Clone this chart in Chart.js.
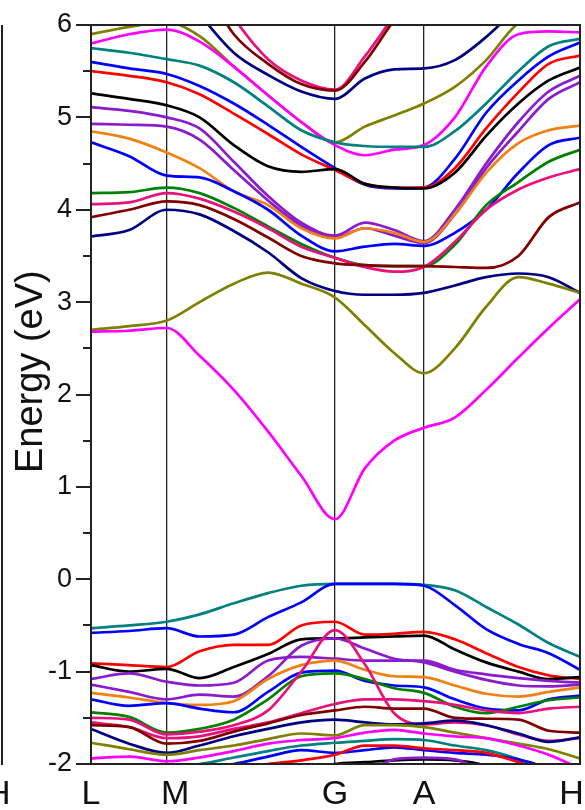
<!DOCTYPE html>
<html>
<head>
<meta charset="utf-8">
<script src="https://cdn.jsdelivr.net/npm/chart.js@4"></script>
<style>
  body { margin: 0; background: #fff; }
  #wrap { position: relative; width: 585px; height: 810px; overflow: hidden; }
  #edge { position: absolute; left: 1px; top: 25px; width: 2px; height: 740px; background: #222; }
  #prevH { position: absolute; left: -14px; top: 773px; font: 34px "Liberation Sans", Arial, sans-serif; color: #111; line-height: 38px; }
</style>
</head>
<body>
<div id="wrap">
  <canvas id="bandChart" width="585" height="810"></canvas>
  <div id="edge"></div>
  <span id="prevH">H</span>
</div>
<script>
// k-path sample positions (path length units) and high-symmetry points
const kx = [0, 0.39, 0.774, 1.11, 1.46, 1.81, 2.15, 2.495, 2.80, 3.10, 3.405, 3.72, 4.04, 4.37, 4.68, 5.0];
const kPos = [0, 0.774, 2.495, 3.405, 5.0];
const kLabels = ['L', 'M', 'G', 'A', 'H'];
const yTicks = [-2, -1, 0, 1, 2, 3, 4, 5, 6];

// conduction bands (eV)
const cbMagenta1 = [2.68, 2.69, 2.72, 2.42, 2.05, 1.6, 1.12, 0.65, 1.2, 1.5, 1.64, 1.75, 2.05, 2.4, 2.72, 3.03];
const cbOlive1 = [2.7, 2.74, 2.8, 3.0, 3.2, 3.32, 3.2, 3.05, 2.75, 2.45, 2.23, 2.5, 2.95, 3.27, 3.2, 3.1];
const cbNavy1 = [3.71, 3.78, 4.0, 3.95, 3.77, 3.54, 3.26, 3.12, 3.08, 3.08, 3.1, 3.18, 3.27, 3.31, 3.27, 3.1];
const cbWine1 = [3.92, 4.0, 4.09, 4.05, 3.9, 3.7, 3.5, 3.42, 3.4, 3.39, 3.39, 3.38, 3.37, 3.5, 3.92, 4.08];
const cbPink1 = [4.06, 4.08, 4.18, 4.12, 3.98, 3.8, 3.6, 3.48, 3.38, 3.33, 3.38, 3.65, 4.0, 4.22, 4.35, 4.44];
const cbGreen1 = [4.18, 4.19, 4.24, 4.18, 4.02, 3.82, 3.63, 3.48, 3.4, 3.39, 3.39, 3.62, 4.05, 4.3, 4.52, 4.65];
const cbBlue2 = [4.73, 4.58, 4.37, 4.35, 4.2, 4.0, 3.72, 3.55, 3.6, 3.63, 3.61, 3.75, 4.0, 4.4, 4.7, 4.78];
const cbOrange1 = [4.85, 4.77, 4.62, 4.45, 4.2, 4.05, 3.8, 3.69, 3.8, 3.75, 3.65, 3.95, 4.4, 4.72, 4.86, 4.91];
const cbPurple2 = [4.93, 4.92, 4.9, 4.76, 4.43, 4.1, 3.83, 3.7, 3.8, 3.72, 3.64, 3.95, 4.45, 4.85, 5.2, 5.38];
const cbPurple1 = [5.11, 5.07, 5.0, 4.88, 4.52, 4.15, 3.86, 3.72, 3.86, 3.78, 3.66, 4.0, 4.5, 4.95, 5.28, 5.45];
const cbBlack1 = [5.26, 5.2, 5.13, 5.0, 4.7, 4.47, 4.41, 4.44, 4.28, 4.24, 4.23, 4.4, 4.8, 5.15, 5.4, 5.54];
const cbRed1 = [5.5, 5.45, 5.38, 5.25, 5.04, 4.82, 4.6, 4.43, 4.28, 4.24, 4.24, 4.45, 4.88, 5.27, 5.58, 5.67];
const cbBlue1 = [5.6, 5.53, 5.47, 5.34, 5.15, 4.92, 4.68, 4.45, 4.27, 4.23, 4.24, 4.55, 5.05, 5.4, 5.66, 5.81];
const cbTeal1 = [5.75, 5.7, 5.63, 5.56, 5.38, 5.12, 4.86, 4.73, 4.69, 4.68, 4.68, 4.85, 5.15, 5.5, 5.77, 5.85];
const cbMagenta2 = [5.8, 5.9, 5.95, 5.82, 5.55, 5.24, 4.95, 4.7, 4.59, 4.65, 4.7, 5.0, 5.55, 5.9, 5.93, 5.92];
const cbOlive2 = [5.9, 5.98, 6.03, 5.88, 5.55, 5.24, 4.95, 4.73, 4.9, 5.02, 5.15, 5.33, 5.62, 6.02, 6.1, 6.05];
const cbNavy2 = [6.6, 6.6, 6.6, 6.12, 5.7, 5.46, 5.28, 5.2, 5.42, 5.52, 5.53, 5.62, 5.87, 6.2, 6.5, 6.6];
const cbWine2 = [6.9, 6.9, 6.9, 6.5, 5.9, 5.58, 5.36, 5.29, 5.6, 6.05, 6.4, 6.6, 6.8, 6.9, 6.9, 6.9];
const cbPink2 = [7.0, 7.0, 7.0, 6.7, 6.08, 5.63, 5.4, 5.3, 5.66, 6.1, 6.5, 6.8, 7.0, 7.0, 7.0, 7.0];

// valence bands (eV)
const vbTeal1 = [-0.53, -0.5, -0.46, -0.38, -0.26, -0.15, -0.07, -0.05, -0.05, -0.05, -0.06, -0.12, -0.3, -0.49, -0.69, -0.84];
const vbBlue1 = [-0.58, -0.56, -0.53, -0.62, -0.6, -0.41, -0.25, -0.05, -0.05, -0.05, -0.07, -0.28, -0.54, -0.7, -0.8, -0.98];
const vbRed1 = [-0.91, -0.93, -0.95, -0.78, -0.71, -0.71, -0.5, -0.46, -0.6, -0.59, -0.57, -0.65, -0.8, -0.95, -1.04, -1.08];
const vbBlack1 = [-0.93, -1.0, -0.97, -1.07, -0.95, -0.81, -0.65, -0.64, -0.63, -0.62, -0.61, -0.76, -0.9, -1.0, -1.08, -1.06];
const vbPurple1 = [-1.08, -1.02, -1.11, -1.15, -1.12, -0.88, -0.84, -0.86, -0.88, -0.88, -0.88, -0.98, -1.03, -1.07, -1.1, -1.12];
const vbPurple2 = [-1.14, -1.22, -1.3, -1.25, -1.27, -1.05, -0.72, -0.64, -0.75, -0.86, -0.9, -1.0, -1.09, -1.15, -1.16, -1.14];
const vbOrange1 = [-1.23, -1.28, -1.34, -1.36, -1.32, -1.08, -0.93, -0.88, -0.98, -1.05, -1.06, -1.15, -1.24, -1.27, -1.22, -1.17];
const vbBlue2 = [-1.3, -1.37, -1.34, -1.4, -1.44, -1.22, -1.01, -0.99, -1.1, -1.15, -1.17, -1.3, -1.4, -1.42, -1.3, -1.26];
const vbGreen1 = [-1.44, -1.49, -1.66, -1.62, -1.52, -1.3, -1.05, -1.02, -1.08, -1.18, -1.23, -1.38, -1.45, -1.38, -1.31, -1.28];
const vbPink1 = [-1.5, -1.52, -1.68, -1.65, -1.58, -1.42, -1.0, -0.55, -0.92, -1.45, -1.57, -1.55, -1.58, -1.68, -1.75, -1.72];
const vbPink2 = [-1.55, -1.6, -1.72, -1.7, -1.62, -1.55, -1.45, -1.35, -1.3, -1.3, -1.32, -1.36, -1.42, -1.45, -1.4, -1.38];
const vbWine1 = [-1.58, -1.6, -1.78, -1.75, -1.65, -1.56, -1.47, -1.42, -1.38, -1.4, -1.4, -1.5, -1.51, -1.52, -1.64, -1.66];
const vbNavy1 = [-1.62, -1.78, -1.88, -1.8, -1.7, -1.62, -1.55, -1.52, -1.55, -1.57, -1.56, -1.53, -1.58, -1.67, -1.76, -1.71];
const vbOlive1 = [-1.77, -1.84, -1.9, -1.85, -1.8, -1.73, -1.67, -1.69, -1.58, -1.58, -1.6, -1.66, -1.72, -1.78, -1.84, -1.94];
const vbMagenta1 = [-1.94, -1.92, -1.97, -1.93, -1.86, -1.78, -1.74, -1.72, -1.66, -1.63, -1.67, -1.7, -1.72, -1.8, -1.9, -2.05];
const vbTeal2 = [-2.2, -2.1, -2.02, -2.0, -1.93, -1.86, -1.8, -1.77, -1.75, -1.73, -1.74, -1.8, -1.85, -1.95, -2.1, -2.3];
const vbBlue3 = [-2.2, -2.15, -2.1, -2.05, -2.0, -1.92, -1.85, -1.88, -1.85, -1.82, -1.85, -1.88, -1.9, -1.95, -2.05, -2.2];
const vbRed2 = [-2.4, -2.35, -2.3, -2.2, -2.05, -2.0, -1.96, -1.9, -1.8, -1.8, -1.83, -1.85, -1.88, -1.98, -2.1, -2.2];
const vbBlack2 = [-2.5, -2.5, -2.5, -2.4, -2.3, -2.2, -2.1, -2.0, -1.98, -1.96, -1.95, -1.96, -2.02, -2.2, -2.4, -2.5];
const vbPurple3 = [-2.6, -2.6, -2.6, -2.5, -2.4, -2.35, -2.3, -2.2, -2.1, -1.95, -1.93, -1.95, -2.1, -2.3, -2.5, -2.6];

const colors = {
  black: '#000000', red: '#ff0000', blue: '#0000ff', magenta: '#ff00ff',
  olive: '#808000', navy: '#000080', purple: '#8a1ccc', wine: '#800000',
  teal: '#008080', orange: '#f08010', green: '#008000', pink: '#e8107a'
};

const series = [
  [cbMagenta1, 'magenta'], [cbOlive1, 'olive'], [cbNavy1, 'navy'], [cbWine1, 'wine'],
  [cbPink1, 'pink'], [cbGreen1, 'green'], [cbBlue2, 'blue'], [cbOrange1, 'orange'],
  [cbPurple2, 'purple'], [cbPurple1, 'purple'], [cbBlack1, 'black'], [cbRed1, 'red'],
  [cbBlue1, 'blue'], [cbTeal1, 'teal'], [cbMagenta2, 'magenta'], [cbOlive2, 'olive'],
  [cbNavy2, 'navy'], [cbWine2, 'wine'], [cbPink2, 'pink'],
  [vbPurple3, 'purple'], [vbBlack2, 'black'], [vbRed2, 'red'], [vbBlue3, 'blue'], [vbTeal2, 'teal'],
  [vbMagenta1, 'magenta'], [vbOlive1, 'olive'], [vbNavy1, 'navy'], [vbWine1, 'wine'],
  [vbPink2, 'pink'], [vbPink1, 'pink'], [vbGreen1, 'green'], [vbBlue2, 'blue'],
  [vbOrange1, 'orange'], [vbPurple2, 'purple'], [vbPurple1, 'purple'], [vbBlack1, 'black'],
  [vbRed1, 'red'], [vbBlue1, 'blue'], [vbTeal1, 'teal']
];

Chart.defaults.font.family = '"Liberation Sans", Arial, sans-serif';
Chart.defaults.color = '#111';

// frame on all four sides plus the short half-eV ticks
const framePlugin = {
  id: 'frame',
  afterDraw(chart) {
    const { ctx, chartArea: a } = chart;
    const y = chart.scales.y;
    ctx.save();
    ctx.strokeStyle = '#222';
    ctx.lineWidth = 2;
    ctx.strokeRect(a.left, a.top, a.right - a.left, a.bottom - a.top);
    ctx.beginPath();
    for (let v = -1.5; v < 6; v += 1) {
      const py = Math.round(y.getPixelForValue(v));
      ctx.moveTo(a.left - 8, py);
      ctx.lineTo(a.left, py);
    }
    ctx.stroke();
    ctx.restore();
  }
};

// small nudges so the k labels sit where the original put them
const labelPad = { M: ['\u2002', ''], H: ['', '\u2002'] };

const ctx = document.getElementById('bandChart').getContext('2d');
const bandChart = new Chart(ctx, {
  type: 'line',
  data: {
    datasets: series.map(([vals, c]) => ({
      data: kx.map((k, i) => ({ x: k, y: vals[i] })),
      borderColor: colors[c],
      borderWidth: 2.7,
      pointRadius: 0,
      fill: false,
      cubicInterpolationMode: 'monotone'
    }))
  },
  options: {
    responsive: false,
    animation: false,
    layout: { padding: { top: 25, right: 5, left: 0, bottom: 0 } },
    plugins: { legend: { display: false }, tooltip: { enabled: false } },
    scales: {
      x: {
        type: 'linear',
        min: 0,
        max: 5,
        afterBuildTicks: s => { s.ticks = kPos.map(v => ({ value: v })); },
        afterFit: s => { s.height = 46; s.paddingLeft = 0; s.paddingRight = 0; },
        ticks: {
          autoSkip: false,
          maxRotation: 0,
          padding: 10,
          font: { size: 34 },
          callback: v => {
            const lab = kLabels[kPos.indexOf(v)];
            const p = labelPad[lab] || ['', ''];
            return p[0] + lab + p[1];
          }
        },
        grid: { color: '#222', lineWidth: 1.3, drawTicks: false },
        border: { color: '#222', width: 2 }
      },
      y: {
        min: -2,
        max: 6,
        afterBuildTicks: s => { s.ticks = yTicks.map(v => ({ value: v })); },
        afterFit: s => { s.width = 91; s.paddingTop = 0; s.paddingBottom = 0; },
        ticks: { padding: 4, font: { size: 27 } },
        grid: { drawOnChartArea: false, tickLength: 15, lineWidth: 2, color: '#222' },
        border: { color: '#222', width: 2 },
        title: {
          display: true,
          text: '\u2003\u2009Energy (eV)',
          font: { size: 38 },
          color: '#111',
          padding: { top: 9, bottom: 0 }
        }
      }
    }
  },
  plugins: [framePlugin]
});
</script>
</body>
</html>
